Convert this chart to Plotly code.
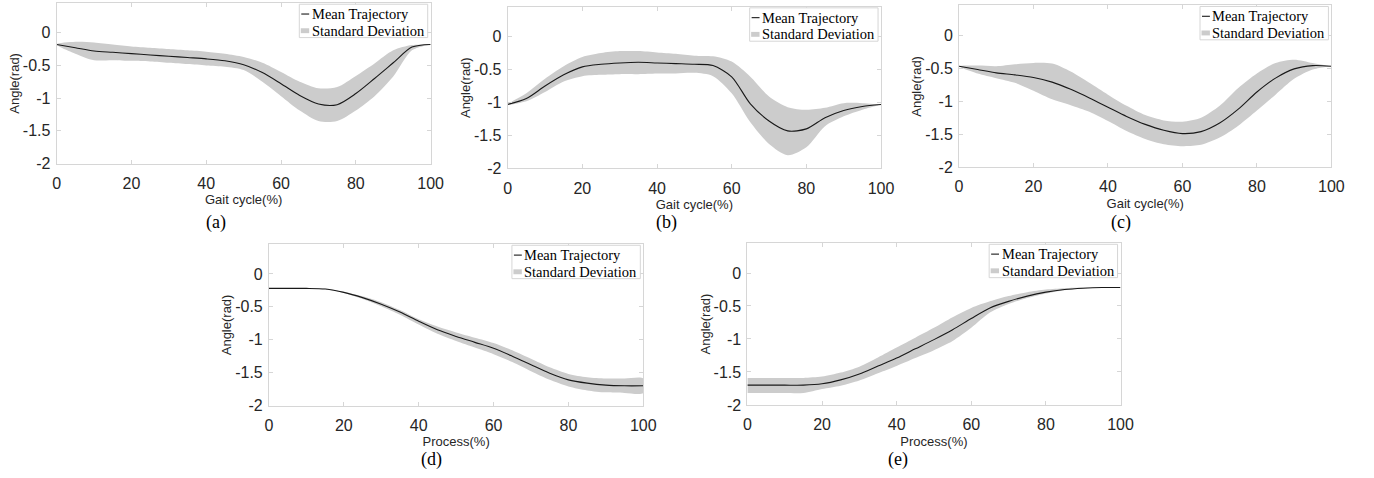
import plotly.graph_objects as go

W, H = 1374, 478

# ---------------- data ----------------
pct = list(range(0, 101, 5))

a_mean = [-0.18, -0.23, -0.28, -0.30, -0.32, -0.34, -0.36, -0.38, -0.40, -0.43, -0.49,
          -0.61, -0.78, -0.96, -1.09, -1.10, -0.93, -0.70, -0.46, -0.22, -0.18]
a_upper = [-0.18, -0.14, -0.15, -0.18, -0.21, -0.23, -0.25, -0.27, -0.29, -0.32, -0.37,
           -0.46, -0.60, -0.75, -0.85, -0.83, -0.66, -0.47, -0.27, -0.19, -0.18]
a_lower = [-0.18, -0.32, -0.42, -0.42, -0.43, -0.44, -0.46, -0.48, -0.50, -0.52, -0.57,
           -0.75, -0.97, -1.19, -1.35, -1.35, -1.19, -0.97, -0.67, -0.27, -0.18]

b_mean = [-1.03, -0.94, -0.75, -0.58, -0.46, -0.42, -0.40, -0.39, -0.40, -0.41, -0.42,
          -0.44, -0.61, -1.02, -1.28, -1.43, -1.40, -1.23, -1.12, -1.06, -1.03]
b_upper = [-1.03, -0.86, -0.64, -0.45, -0.31, -0.25, -0.22, -0.22, -0.24, -0.26, -0.29,
           -0.30, -0.38, -0.61, -0.91, -1.07, -1.11, -1.08, -1.01, -1.01, -1.03]
b_lower = [-1.03, -0.98, -0.84, -0.68, -0.60, -0.58, -0.57, -0.57, -0.56, -0.56, -0.55,
           -0.60, -0.86, -1.30, -1.63, -1.80, -1.68, -1.36, -1.21, -1.11, -1.03]

c_mean = [-0.47, -0.52, -0.57, -0.60, -0.64, -0.71, -0.82, -0.95, -1.09, -1.23, -1.35,
          -1.44, -1.49, -1.46, -1.33, -1.12, -0.86, -0.65, -0.51, -0.46, -0.47]
c_upper = [-0.47, -0.46, -0.47, -0.44, -0.42, -0.43, -0.55, -0.72, -0.90, -1.07, -1.21,
           -1.29, -1.31, -1.25, -1.07, -0.80, -0.58, -0.42, -0.37, -0.42, -0.47]
c_lower = [-0.47, -0.58, -0.65, -0.72, -0.84, -0.97, -1.06, -1.16, -1.30, -1.45, -1.57,
           -1.65, -1.68, -1.66, -1.55, -1.37, -1.14, -0.90, -0.66, -0.52, -0.47]

d_mean = [-0.22, -0.22, -0.22, -0.23, -0.28, -0.36, -0.46, -0.58, -0.72, -0.85, -0.95,
          -1.04, -1.13, -1.25, -1.38, -1.51, -1.61, -1.66, -1.69, -1.70, -1.70]
d_upper = [-0.22, -0.22, -0.22, -0.22, -0.27, -0.34, -0.43, -0.55, -0.69, -0.80, -0.89,
           -0.97, -1.05, -1.16, -1.29, -1.42, -1.52, -1.57, -1.59, -1.59, -1.59]
d_lower = [-0.22, -0.22, -0.22, -0.23, -0.29, -0.38, -0.49, -0.62, -0.77, -0.91, -1.02,
           -1.12, -1.22, -1.34, -1.48, -1.61, -1.71, -1.77, -1.80, -1.81, -1.81]

e_mean = [-1.70, -1.70, -1.70, -1.70, -1.68, -1.62, -1.53, -1.41, -1.29, -1.15, -1.01,
          -0.86, -0.69, -0.53, -0.43, -0.35, -0.29, -0.25, -0.23, -0.22, -0.22]
e_upper = [-1.59, -1.59, -1.59, -1.59, -1.57, -1.51, -1.42, -1.28, -1.13, -0.98, -0.83,
           -0.67, -0.53, -0.43, -0.35, -0.29, -0.25, -0.23, -0.22, -0.22, -0.22]
e_lower = [-1.82, -1.82, -1.82, -1.82, -1.76, -1.71, -1.63, -1.52, -1.41, -1.29, -1.17,
           -1.03, -0.83, -0.60, -0.47, -0.38, -0.31, -0.26, -0.23, -0.22, -0.22]

x_ticks = [0, 20, 40, 60, 80, 100]
y_ticks = [0, -0.5, -1, -1.5, -2]
y_tick_text = ["0", "-0.5", "-1", "-1.5", "-2"]

x_titles = ["Gait cycle(%)", "Gait cycle(%)", "Gait cycle(%)", "Process(%)", "Process(%)"]
captions = ["(a)", "(b)", "(c)", "(d)", "(e)"]
y_title = "Angle(rad)"
legend_names = ["Mean Trajectory", "Standard Deviation"]

# ---------------- layout geometry (pixels) ----------------
# left, right, top, bottom of each plot area
boxes = [
    (53.3, 432.0, 3.3, 166.7),
    (510.0, 888.0, 7.0, 171.7),
    (967.0, 1344.0, 5.6, 170.5),
    (268.3, 647.3, 249.0, 413.3),
    (752.7, 1130.5, 248.0, 412.7),
]
caption_pos = [(215, 227), (671, 227), (1131, 227), (433, 468), (905, 468)]

series = [
    (a_mean, a_upper, a_lower),
    (b_mean, b_upper, b_lower),
    (c_mean, c_upper, c_lower),
    (d_mean, d_upper, d_lower),
    (e_mean, e_upper, e_lower),
]

BAND = "rgb(204,204,204)"
LINE = "rgb(25,25,25)"
AXC = "rgb(214,214,214)"
TXT = "rgb(38,38,38)"
SERIF = "Liberation Serif, Times New Roman, serif"
SANS = "Liberation Sans, Arial, sans-serif"


def px(x):
    return x / W


def py(y):
    return 1 - y / H


fig = go.Figure()
layout = dict(
    width=W, height=H, margin=dict(l=0, r=0, t=0, b=0),
    paper_bgcolor="white", plot_bgcolor="white",
    showlegend=False,
)
annotations = []
shapes = []

for i, ((mean, upper, lower), (l, r, t, b)) in enumerate(zip(series, boxes)):
    n = i + 1
    xa = "x" if n == 1 else f"x{n}"
    ya = "y" if n == 1 else f"y{n}"

    fig.add_trace(go.Scatter(
        x=pct + pct[::-1], y=upper + lower[::-1],
        fill="toself", fillcolor=BAND, mode="lines",
        line=dict(width=0, color=BAND, shape="spline", smoothing=0.8),
        name=legend_names[1], xaxis=xa, yaxis=ya, hoverinfo="skip",
    ))
    fig.add_trace(go.Scatter(
        x=pct, y=mean, mode="lines",
        line=dict(width=1.1, color=LINE, shape="spline", smoothing=0.8),
        name=legend_names[0], xaxis=xa, yaxis=ya,
    ))

    axis_common = dict(
        showline=True, linecolor=AXC, linewidth=1, mirror="ticks",
        ticks="inside", ticklen=4, tickcolor=AXC, showgrid=False, zeroline=False,
        tickfont=dict(family=SANS, size=16, color=TXT),
    )
    xname = "xaxis" if n == 1 else f"xaxis{n}"
    yname = "yaxis" if n == 1 else f"yaxis{n}"
    layout[xname] = dict(
        axis_common, domain=[px(l), px(r)], anchor=ya, range=[0, 100],
        tickvals=x_ticks, ticktext=[str(v) for v in x_ticks], ticklabelstandoff=5,
        title=dict(text=x_titles[i], standoff=4,
                   font=dict(family=SANS, size=13, color=TXT)),
    )
    layout[yname] = dict(
        axis_common, domain=[py(b), py(t)], anchor=xa, range=[-2, 0.45],
        tickvals=y_ticks, ticktext=y_tick_text, ticklabelstandoff=2,
        title=dict(text=y_title, standoff=0,
                   font=dict(family=SANS, size=13, color=TXT)),
    )

    # legend box (drawn manually, MATLAB style)
    lr = r - 3
    ll = lr - 130
    lt = t + 1
    lb = t + 35
    shapes.append(dict(type="rect", xref="paper", yref="paper",
                       x0=px(ll), x1=px(lr), y0=py(lb), y1=py(lt),
                       line=dict(color=AXC, width=1), fillcolor="white", layer="above"))
    shapes.append(dict(type="line", xref="paper", yref="paper",
                       x0=px(ll + 2), x1=px(ll + 10), y0=py(lt + 10), y1=py(lt + 10),
                       line=dict(color=LINE, width=1.1), layer="above"))
    shapes.append(dict(type="rect", xref="paper", yref="paper",
                       x0=px(ll + 1.5), x1=px(ll + 10), y0=py(lt + 29.5), y1=py(lt + 24.5),
                       line=dict(width=0), fillcolor=BAND, layer="above"))
    for k, yy in enumerate([lt + 10, lt + 27]):
        annotations.append(dict(
            x=px(ll + 10.5), y=py(yy), xref="paper", yref="paper", showarrow=False,
            text=legend_names[k], xanchor="left", yanchor="middle",
            font=dict(family=SERIF, size=14.5, color="black"),
        ))

    cx, cy = caption_pos[i]
    annotations.append(dict(
        x=px(cx), y=py(cy), xref="paper", yref="paper", showarrow=False,
        text=captions[i], xanchor="center", yanchor="middle",
        font=dict(family=SERIF, size=18, color="black"),
    ))

layout["annotations"] = annotations
layout["shapes"] = shapes
fig.update_layout(**layout)
fig.write_html("out.html")
